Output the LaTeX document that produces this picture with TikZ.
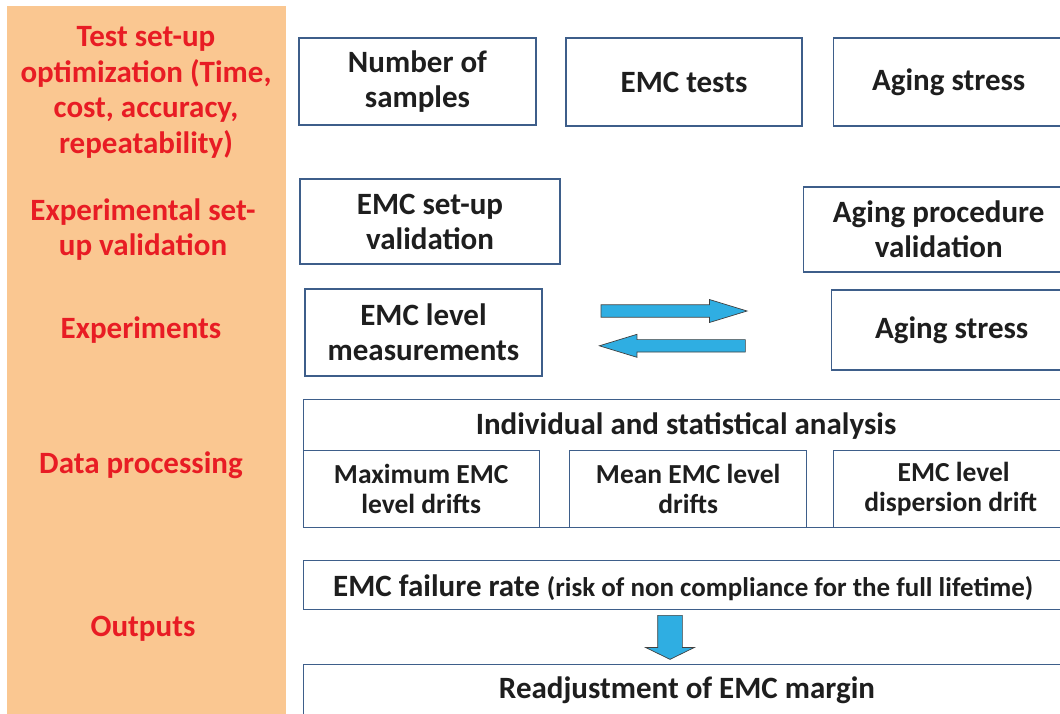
\documentclass[tikz,border=0pt]{standalone}
\usepackage{fontspec}
\setmainfont{Carlito}
\usetikzlibrary{shapes.arrows}
\definecolor{peach}{RGB}{250,199,145}
\definecolor{lblred}{RGB}{232,28,36}
\definecolor{boxline}{RGB}{62,94,138}
\definecolor{txt}{RGB}{30,30,30}
\definecolor{arrowblue}{RGB}{47,174,226}
\definecolor{arrowline}{RGB}{64,64,64}
\tikzset{
  lbl/.style={text=lblred, font=\bfseries\fontsize{31}{35.5}\selectfont, align=center, inner sep=0pt},
  box/.style={draw=boxline, line width=1.4pt, fill=white, text=txt, font=\bfseries\fontsize{31}{35}\selectfont, align=center, inner sep=0pt},
  subbox/.style={box, font=\bfseries\fontsize{27.5}{30}\selectfont},
  blockarrow/.style={single arrow, draw=arrowline, line width=0.7pt, fill=arrowblue, inner xsep=0pt}
}
\begin{document}
\begin{tikzpicture}[x=1pt,y=-1pt]
\useasboundingbox (0,0) rectangle (1060,713);
\begin{scope}
\clip (0,0) rectangle (1060,713);
% left panel
\fill[peach] (7,6) rectangle (286,720);
\node[lbl] (l1) at (146,92.5) {Test set-up\\optimization (Time,\\cost, accuracy,\\repeatability)};
\node[lbl] (l2) at (143,229.5) {Experimental set-\\up validation};
\node[lbl] (l3) at (141,330.5) {Experiments};
\node[lbl] (l4) at (141,465.5) {Data processing};
\node[lbl] (l5) at (143,628.5) {Outputs};
% row 1
\node[box, minimum width=237pt, minimum height=87pt] (ns) at (417.5,81.5) {Number of\\samples};
\node[box, minimum width=236pt, minimum height=88pt] (emct) at (684,82) {EMC tests};
\node[box, minimum width=240pt, minimum height=88pt, anchor=west] (as1) at (833,82) {\hspace*{-10pt}Aging stress};
% row 2
\node[box, minimum width=260pt, minimum height=85pt] (esv) at (430,221.5) {EMC set-up\\validation};
\node[box, minimum width=270pt, minimum height=85pt, anchor=west] (apv) at (803,229.5) {Aging procedure\\validation\hspace*{0pt}};
% row 3
\node[box, minimum width=237pt, minimum height=87pt] (elm) at (423.5,332.5) {EMC level\\measurements};
\node[box, minimum width=240pt, minimum height=80pt, anchor=west] (as2) at (831,330) {Aging stress};
% arrows
\node[blockarrow, inner ysep=5.85pt, minimum height=146pt, minimum width=22.4pt, single arrow head extend=5.3pt, single arrow tip angle=34, anchor=tail] (ra) at (600.7,311) {};
\node[blockarrow, inner ysep=5.85pt, minimum height=146pt, minimum width=22.4pt, single arrow head extend=5.3pt, single arrow tip angle=34, rotate=180, anchor=tail] (la) at (745.7,345.8) {};
% row 4
\node[box, minimum width=770pt, minimum height=128pt, anchor=north west] (isa) at (302.5,398.5) {};
\node[box, draw=none, fill=none] (isat) at (686,426) {Individual and statistical analysis};
\node[subbox, minimum width=236pt, minimum height=77pt, anchor=north west] (mx) at (302.5,449.5) {Maximum EMC\\level drifts};
\node[subbox, minimum width=237pt, minimum height=77pt, anchor=north west] (mn) at (569,449.5) {Mean EMC level\\drifts};
\node[subbox, minimum width=240pt, minimum height=77pt, anchor=north west] (dd) at (833,449.5) {EMC level\\dispersion drift\hspace*{6pt}};
% row 5
\node[box, minimum width=770pt, minimum height=49pt, anchor=north west] (efr) at (302.5,560) {};
\node[anchor=west, inner sep=0pt, text=txt] (efrt) at (333,588) {\bfseries\fontsize{31}{35}\selectfont EMC failure rate \fontsize{27}{30}\selectfont(risk of non compliance for the full lifetime)};
\node[box, minimum width=770pt, minimum height=60pt, anchor=north west] (ra2) at (302.5,664) {};
\node[box, draw=none, fill=none] (rat) at (687,690) {Readjustment of EMC margin};
% down arrow
\node[blockarrow, inner ysep=12pt, minimum height=44pt, minimum width=48pt, single arrow head extend=12pt, single arrow tip angle=128, rotate=-90, anchor=tail] (da) at (670,615) {};
\end{scope}
\end{tikzpicture}
\end{document}
